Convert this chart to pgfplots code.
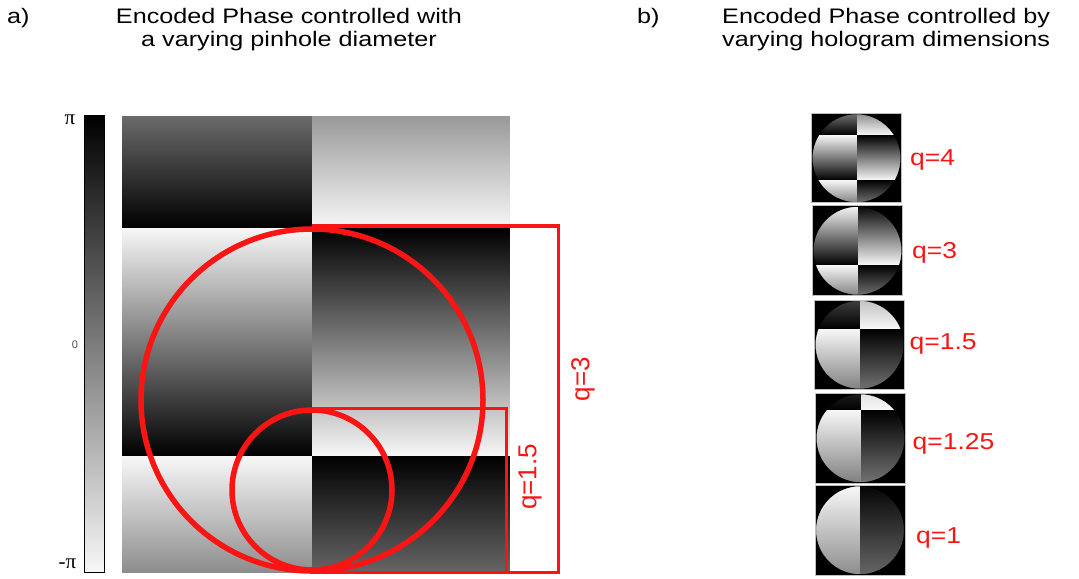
\documentclass[border=0pt]{standalone}
\usepackage{pgfplots}
\pgfplotsset{compat=1.18}
\usepackage{fontspec}
\setmainfont{Liberation Sans}
\newfontfamily\titlefont[FakeStretch=1.2]{Liberation Sans}
\newfontfamily\labfont[FakeStretch=1.15]{Liberation Sans}
\newfontfamily\greekfont{Liberation Serif}
\definecolor{qred}{RGB}{250,20,20}
\begin{document}
\begin{tikzpicture}
\begin{axis}[
  x=1bp, y=1bp, y dir=reverse,
  xmin=0, xmax=1079, ymin=0, ymax=579,
  hide axis, clip=false,
  colormap={bw}{gray(0cm)=(0); gray(1cm)=(1)},
  point meta min=0, point meta max=1,
]
% colour bar
\addplot[surf, shader=interp, mesh/cols=2, point meta=\thisrow{c}] table {
x y c
84.5 115.5 0
104.5 115.5 0
84.5 572.5 0.97
104.5 572.5 0.97
};
% encoded phase (pinhole)
\addplot[surf, shader=interp, mesh/cols=4, point meta=\thisrow{c}] table {
x y c
122.3 115.7 0.42
312.3 115.7 0.42
312.3 115.7 0.60
509.0 115.7 0.60
122.3 227.7 0.0
312.3 227.7 0.0
312.3 227.7 0.97
509.0 227.7 0.97
122.3 227.7 0.97
312.3 227.7 0.97
312.3 227.7 0.0
509.0 227.7 0.0
122.3 456.0 0.0
312.3 456.0 0.0
312.3 456.0 0.97
509.0 456.0 0.97
122.3 456.0 0.97
312.3 456.0 0.97
312.3 456.0 0.0
509.0 456.0 0.0
122.3 572.7 0.55
312.3 572.7 0.55
312.3 572.7 0.40
509.0 572.7 0.40
};
% q=4
\addplot[surf, shader=interp, mesh/cols=4, point meta=\thisrow{c}] table {
x y c
811.5 113.5 0.45
856.5 113.5 0.45
856.5 113.5 0.55
901.5 113.5 0.55
811.5 135.4 0.0
856.5 135.4 0.0
856.5 135.4 0.97
901.5 135.4 0.97
811.5 135.4 0.97
856.5 135.4 0.97
856.5 135.4 0.0
901.5 135.4 0.0
811.5 180.1 0.0
856.5 180.1 0.0
856.5 180.1 0.97
901.5 180.1 0.97
811.5 180.1 0.97
856.5 180.1 0.97
856.5 180.1 0.0
901.5 180.1 0.0
811.5 203.0 0.5
856.5 203.0 0.5
856.5 203.0 0.45
901.5 203.0 0.45
};
% q=3
\addplot[surf, shader=interp, mesh/cols=4, point meta=\thisrow{c}] table {
x y c
812.5 206.0 0.97
857.5 206.0 0.97
857.5 206.0 0.02
902.5 206.0 0.02
812.5 265.0 0.0
857.5 265.0 0.0
857.5 265.0 0.97
902.5 265.0 0.97
812.5 265.0 0.97
857.5 265.0 0.97
857.5 265.0 0.0
902.5 265.0 0.0
812.5 295.5 0.5
857.5 295.5 0.5
857.5 295.5 0.45
902.5 295.5 0.45
};
% q=1.5
\addplot[surf, shader=interp, mesh/cols=4, point meta=\thisrow{c}] table {
x y c
814.5 300.0 0.24
859.5 300.0 0.24
859.5 300.0 0.76
904.5 300.0 0.76
814.5 328.6 0.0
859.5 328.6 0.0
859.5 328.6 0.97
904.5 328.6 0.97
814.5 328.6 0.97
859.5 328.6 0.97
859.5 328.6 0.0
904.5 328.6 0.0
814.5 389.5 0.5
859.5 389.5 0.5
859.5 389.5 0.45
904.5 389.5 0.45
};
% q=1.25
\addplot[surf, shader=interp, mesh/cols=4, point meta=\thisrow{c}] table {
x y c
815.5 393.5 0.11
860.5 393.5 0.11
860.5 393.5 0.89
905.5 393.5 0.89
815.5 409.8 0.0
860.5 409.8 0.0
860.5 409.8 0.97
905.5 409.8 0.97
815.5 409.8 0.97
860.5 409.8 0.97
860.5 409.8 0.0
905.5 409.8 0.0
815.5 483.0 0.5
860.5 483.0 0.5
860.5 483.0 0.45
905.5 483.0 0.45
};
% q=1
\addplot[surf, shader=interp, mesh/cols=4, point meta=\thisrow{c}] table {
x y c
815.0 485.5 0.97
860.0 485.5 0.97
860.0 485.5 0.02
905.0 485.5 0.02
815.0 575.0 0.55
860.0 575.0 0.55
860.0 575.0 0.40
905.0 575.0 0.40
};
% circular apertures of the holograms
\fill[black, even odd rule] (axis cs:811.5,113.5) rectangle (axis cs:901.5,203.0) (axis cs:856.5,158.25) circle[radius=44bp];
\fill[black, even odd rule] (axis cs:812.5,206.0) rectangle (axis cs:902.5,295.5) (axis cs:857.5,250.75) circle[radius=44bp];
\fill[black, even odd rule] (axis cs:814.5,300.0) rectangle (axis cs:904.5,389.5) (axis cs:859.5,344.75) circle[radius=44bp];
\fill[black, even odd rule] (axis cs:815.5,393.5) rectangle (axis cs:905.5,483.0) (axis cs:860.5,438.25) circle[radius=44bp];
\fill[black, even odd rule] (axis cs:815.0,485.5) rectangle (axis cs:905.0,575.0) (axis cs:860.0,530.25) circle[radius=44bp];
\draw[black!25, line width=1bp] (axis cs:811.5,113.5) rectangle (axis cs:901.5,203.0);
\draw[black!25, line width=1bp] (axis cs:812.5,206.0) rectangle (axis cs:902.5,295.5);
\draw[black!25, line width=1bp] (axis cs:814.5,300.0) rectangle (axis cs:904.5,389.5);
\draw[black!25, line width=1bp] (axis cs:815.5,393.5) rectangle (axis cs:905.5,483.0);
\draw[black!25, line width=1bp] (axis cs:815.0,485.5) rectangle (axis cs:905.0,575.0);
% colour bar frame
\draw[black, line width=0.8bp] (axis cs:84.5,115.5) rectangle (axis cs:104.5,572.5);
% red pinholes and brackets
\draw[qred, line width=5.5bp] (axis cs:312,400) circle[radius=171bp];
\draw[qred, line width=5.5bp] (axis cs:312,490) circle[radius=80bp];
\draw[qred, line width=3.3bp] (axis cs:312,226) -- (axis cs:558.3,226) -- (axis cs:558.3,572.3) -- (axis cs:310,572.3);
\draw[qred, line width=3.3bp] (axis cs:312,408.3) -- (axis cs:506.7,408.3) -- (axis cs:506.7,572.3);
\node[text=qred, rotate=90, inner sep=0pt, font=\fontsize{26bp}{28bp}\selectfont] at (axis cs:583,379) {q=3};
\node[text=qred, rotate=90, inner sep=0pt, font=\fontsize{26bp}{28bp}\selectfont] at (axis cs:530,477) {q=1.5};
% colour bar labels
\node[inner sep=0pt, font=\greekfont\fontsize{21bp}{22bp}\selectfont] at (axis cs:70,120) {π};
\node[inner sep=0pt, font=\greekfont\fontsize{21bp}{22bp}\selectfont] at (axis cs:67.5,564) {-π};
\node[inner sep=0pt, text=black!70, font=\fontsize{11bp}{12bp}\selectfont] at (axis cs:75,345) {0};
% titles
\node[anchor=base west, inner sep=0pt, font=\titlefont\fontsize{21bp}{23bp}\selectfont] at (axis cs:7,24) {a)};
\node[anchor=base, inner sep=0pt, font=\titlefont\fontsize{21bp}{23bp}\selectfont] at (axis cs:289,24) {Encoded Phase controlled with};
\node[anchor=base, inner sep=0pt, font=\titlefont\fontsize{21bp}{23bp}\selectfont] at (axis cs:289,46.7) {a varying pinhole diameter};
\node[anchor=base west, inner sep=0pt, font=\titlefont\fontsize{21bp}{23bp}\selectfont] at (axis cs:637,24) {b)};
\node[anchor=base west, inner sep=0pt, font=\titlefont\fontsize{21bp}{23bp}\selectfont] at (axis cs:722,24) {Encoded Phase controlled by};
\node[anchor=base west, inner sep=0pt, font=\titlefont\fontsize{21bp}{23bp}\selectfont] at (axis cs:722,46.7) {varying hologram dimensions};
% hologram labels
\node[anchor=base west, inner sep=0pt, text=qred, font=\labfont\fontsize{23bp}{25bp}\selectfont] at (axis cs:910,166) {q=4};
\node[anchor=base west, inner sep=0pt, text=qred, font=\labfont\fontsize{23bp}{25bp}\selectfont] at (axis cs:912,258.5) {q=3};
\node[anchor=base west, inner sep=0pt, text=qred, font=\labfont\fontsize{23bp}{25bp}\selectfont] at (axis cs:909.5,349.5) {q=1.5};
\node[anchor=base west, inner sep=0pt, text=qred, font=\labfont\fontsize{23bp}{25bp}\selectfont] at (axis cs:912.5,449.5) {q=1.25};
\node[anchor=base west, inner sep=0pt, text=qred, font=\labfont\fontsize{23bp}{25bp}\selectfont] at (axis cs:916,543) {q=1};
\path (axis cs:0,0) rectangle (axis cs:1079,579);
\end{axis}
\end{tikzpicture}
\end{document}
